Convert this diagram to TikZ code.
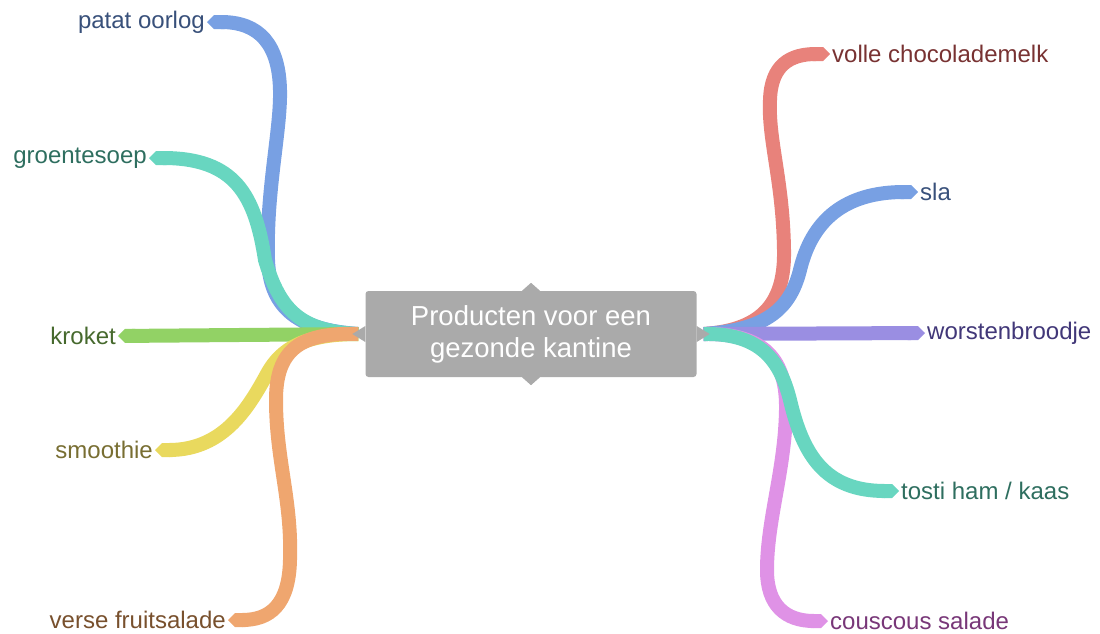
\documentclass[tikz,border=0pt]{standalone}
\usepackage{fontspec}
\setmainfont{Liberation Sans}
\usetikzlibrary{arrows.meta}
\pgfdeclarelayer{background}
\pgfsetlayers{background,main}
\definecolor{mapgray}{RGB}{170,170,170}
\definecolor{mapblue}{RGB}{120,160,227}
\definecolor{mapteal}{RGB}{104,214,192}
\definecolor{mapgreen}{RGB}{146,210,101}
\definecolor{mapyellow}{RGB}{233,217,94}
\definecolor{maporange}{RGB}{239,166,111}
\definecolor{mapred}{RGB}{232,130,123}
\definecolor{mappurple}{RGB}{154,142,226}
\definecolor{mappink}{RGB}{223,146,230}
\definecolor{txtblue}{RGB}{56,80,122}
\definecolor{txtteal}{RGB}{46,110,95}
\definecolor{txtgreen}{RGB}{70,105,45}
\definecolor{txtolive}{RGB}{120,110,50}
\definecolor{txtbrown}{RGB}{120,80,45}
\definecolor{txtred}{RGB}{120,50,50}
\definecolor{txtpurple}{RGB}{65,55,120}
\definecolor{txtpink}{RGB}{120,55,120}

\begin{document}
\begin{tikzpicture}[x=1pt,y=-1pt,
        branch/.style={line width=14pt,-{Triangle Cap}},
        leaf/.style={inner sep=2pt,font=\fontsize{24}{28}\selectfont},
        ]
        \useasboundingbox (0,0) rectangle (1100,633);
        \node[fill=mapgray,rounded corners=3pt,minimum width=331pt,minimum height=86pt,text=white,align=center,font=\fontsize{27.5}{32}\selectfont] (center) at (531,334) {Producten voor een\\gezonde kantine};
        \fill[mapgray] ([xshift=-9pt]center.north) -- ++(9,-8) -- ++(9,8) -- cycle;
        \fill[mapgray] ([xshift=-9pt]center.south) -- ++(9,8) -- ++(9,-8) -- cycle;
        \fill[mapgray] ([yshift=8pt]center.west) -- ++(-13,8) -- ++(13,8) -- cycle;
        \fill[mapgray] ([yshift=8pt]center.east) -- ++(13,8) -- ++(-13,8) -- cycle;
        \coordinate (lroot) at ([xshift=-7pt]center.west);
        \coordinate (rroot) at ([xshift=7pt]center.east);
        \node[leaf,anchor=east,text=txtblue] (patat) at (207,22) {patat oorlog};
        \node[leaf,anchor=east,text=txtteal] (groente) at (149,158) {groentesoep};
        \node[leaf,anchor=east,text=txtgreen] (kroket) at (118,336) {kroket};
        \node[leaf,anchor=east,text=txtolive] (smoothie) at (155,450) {smoothie};
        \node[leaf,anchor=east,text=txtbrown] (fruit) at (228,620) {verse fruitsalade};
        \node[leaf,anchor=west,text=txtred] (melk) at (830,54) {volle chocolademelk};
        \node[leaf,anchor=west,text=txtblue] (sla) at (918,192) {sla};
        \node[leaf,anchor=west,text=txtpurple] (worst) at (925,333) {worstenbroodje};
        \node[leaf,anchor=west,text=txtteal] (tosti) at (899,491) {tosti ham / kaas};
        \node[leaf,anchor=west,text=txtpink] (cous) at (828,621) {couscous salade};
        \begin{pgfonlayer}{background}
        \draw[branch,mapblue] (lroot) .. controls (300,330) and (270,310) .. (268,260) .. controls (266,190) and (281,130) .. (280,90) .. controls (279,45) and (260,22) .. (patat.east);
        \draw[branch,mapteal] (lroot) .. controls (300,331) and (280,310) .. (265,260) .. controls (255,195) and (235,158) .. (groente.east);
        \draw[branch,mapgreen] (lroot) -- (kroket.east);
        \draw[branch,mapyellow] (lroot) .. controls (305,334) and (282,348) .. (268,372) .. controls (250,405) and (225,450) .. (smoothie.east);
        \draw[branch,maporange] (lroot) .. controls (300,332) and (276,350) .. (276,400) .. controls (276,460) and (292,500) .. (290,560) .. controls (289,605) and (270,620) .. (fruit.east);
        \draw[branch,mapred] (rroot) .. controls (765,330) and (785,300) .. (784,250) .. controls (783,180) and (768,140) .. (770,100) .. controls (771,65) and (790,54) .. (melk.west);
        \draw[branch,mapblue] (rroot) .. controls (765,330) and (790,310) .. (800,270) .. controls (812,220) and (845,192) .. (sla.west);
        \draw[branch,mappurple] (rroot) -- (worst.west);
        \draw[branch,mappink] (rroot) .. controls (765,333) and (787,360) .. (786,410) .. controls (785,470) and (767,520) .. (767,570) .. controls (767,605) and (785,621) .. (cous.west);
        \draw[branch,mapteal] (rroot) .. controls (760,333) and (780,360) .. (790,400) .. controls (803,455) and (825,491) .. (tosti.west);
        \end{pgfonlayer}
\end{tikzpicture}
\end{document}
